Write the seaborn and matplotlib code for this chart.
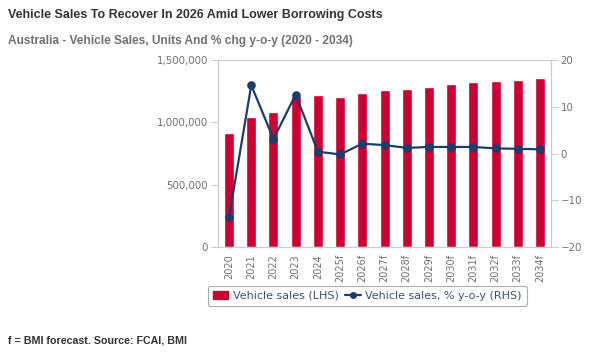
import numpy as np
import pandas as pd
import seaborn as sns
import matplotlib.pyplot as plt
from matplotlib.lines import Line2D
from matplotlib.patches import Patch
from matplotlib.ticker import FuncFormatter

years = ['2020', '2021', '2022', '2023', '2024', '2025f', '2026f', '2027f',
         '2028f', '2029f', '2030f', '2031f', '2032f', '2033f', '2034f']
sales = [912000, 1045000, 1083000, 1211000, 1219000, 1207000, 1232000, 1256000,
         1267000, 1283000, 1307000, 1320000, 1334000, 1342000, 1355000]
pct_chg = [-13.6, 14.6, 3.1, 12.6, 0.4, -0.2, 2.1, 1.8,
           1.2, 1.4, 1.4, 1.4, 1.1, 1.0, 0.9]

bar_col = '#CC0033'
line_col = '#1B3D6E'
tick_col = '#707070'

df = pd.DataFrame({'year': years, 'sales': sales, 'pct': pct_chg})

sns.set_style('white')
plt.rcParams['font.family'] = ['DejaVu Sans']

fig = plt.figure(figsize=(5.98, 3.57), dpi=100)
ax = fig.add_axes([0.3645, 0.308, 0.557, 0.524])

sns.barplot(data=df, x='year', y='sales', color=bar_col, width=0.45,
            saturation=1, ax=ax, zorder=2)
ax.set_ylim(0, 1500000)
ax.set_yticks([0, 500000, 1000000, 1500000])
ax.yaxis.set_major_formatter(FuncFormatter(lambda v, p: f'{int(v):,}'))
ax.set_xlim(-0.5, len(years) - 0.5)
ax.set_xlabel('')
ax.set_ylabel('')
ax.axhline(1500000, color='#cccccc', lw=0.8, zorder=1)

ax2 = ax.twinx()
sns.pointplot(data=df, x='year', y='pct', color=line_col, ax=ax2,
              markersize=5, linewidth=1.6, zorder=3)
ax2.set_ylim(-20, 20)
ax2.set_yticks([-20, -10, 0, 10, 20])
ax2.set_xlim(-0.5, len(years) - 0.5)
ax2.set_ylabel('')
ax2.set_xlabel('')

for a in (ax, ax2):
    a.spines['top'].set_visible(False)
    a.spines['left'].set_color('#cccccc')
    a.spines['right'].set_color('#cccccc')
    a.spines['bottom'].set_color('#c0d0e0')
    a.tick_params(axis='y', color='#cccccc', labelcolor=tick_col, labelsize=7.4,
                  length=5, width=0.8, pad=2)

ax.set_xticks(range(len(years)))
ax.set_xticklabels(years, rotation=90, fontsize=7, color=tick_col)
ax.tick_params(axis='x', length=0, pad=5)
# category boundary ticks
ax.set_xticks(np.arange(-0.5, len(years), 1), minor=True)
ax.tick_params(axis='x', which='minor', length=4, color='#c0d0e0', width=0.8)

handles = [Patch(facecolor=bar_col, edgecolor=bar_col),
           Line2D([0], [0], color=line_col, marker='o', markersize=4, lw=1.6)]
leg = fig.legend(handles, ['Vehicle sales (LHS)', 'Vehicle sales, % y-o-y (RHS)'],
                 loc='center', bbox_to_anchor=(0.614, 0.171), ncol=2,
                 frameon=True, fontsize=8, handlelength=1.4, columnspacing=0.6,
                 handletextpad=0.4, borderpad=0.45, fancybox=True)
leg.get_frame().set_edgecolor('#999999')
leg.get_frame().set_linewidth(0.8)
for t in leg.get_texts():
    t.set_color('#3A5276')

fig.text(0.013, 0.958, 'Vehicle Sales To Recover In 2026 Amid Lower Borrowing Costs',
         fontsize=9.0, fontweight='bold', color='#333333', family='Liberation Sans',
         va='center')
fig.text(0.013, 0.885, 'Australia - Vehicle Sales, Units And % chg y-o-y (2020 - 2034)',
         fontsize=8.6, fontweight='bold', color='#707070', family='Liberation Sans',
         va='center')
fig.text(0.013, 0.045, 'f = BMI forecast. Source: FCAI, BMI',
         fontsize=7.7, fontweight='bold', color='#333333', family='Liberation Sans',
         va='center')

fig.savefig('out.png', dpi=100)
